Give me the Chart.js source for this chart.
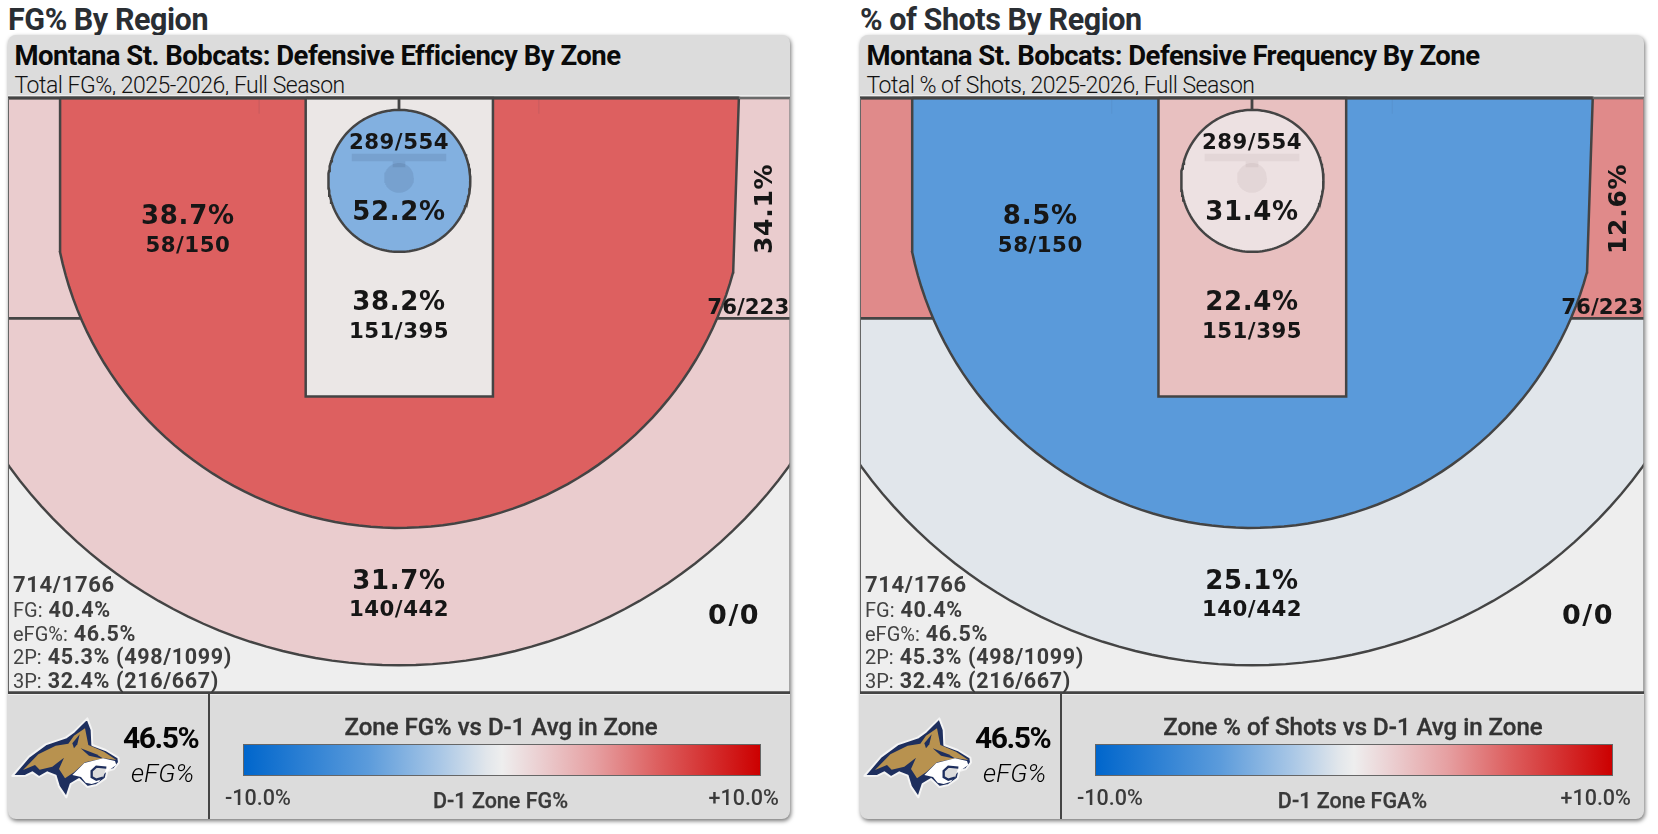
<!DOCTYPE html>
<html lang="en">
<head>
<meta charset="UTF-8">
<title>Montana St. Bobcats: Defensive Zones</title>
<script src="https://cdn.jsdelivr.net/npm/chart.js"></script>
<style>
    html, body { margin: 0; padding: 0; background: #fff; width: 1658px; height: 834px; overflow: hidden; }
    body { font-family: Roboto, sans-serif; position: relative; }
    .t { position: absolute; white-space: nowrap; line-height: 1; }
    .panelTitle { top: 4.5px; font-size: 30.5px; font-weight: 700; color: #2a2e33; letter-spacing: -0.45px; }
    .card { position: absolute; top: 35px; height: 784px; background: #dcdcdc; border-radius: 8px;
            box-shadow: 1px 2px 4px rgba(0,0,0,.55); overflow: hidden; }
    .court { position: absolute; left: 0; top: 60px; right: 0; height: 600px; background: #eeeeee; }
    .head { left: 6.5px; top: 7px; font-size: 27.5px; font-weight: 700; color: #0a0a0a; letter-spacing: -0.52px; }
    .sub { left: 6.5px; top: 38.5px; font-size: 23px; font-weight: 300; color: #111; letter-spacing: -0.5px; }
    .stats { left: 5px; color: #444; font-size: 20px; font-weight: 400; }
    .stats b { font-weight: 700; font-size: 21.5px; letter-spacing: 0.65px; margin-left: 1px; color: #3c3c3c; }
    .divider { position: absolute; left: 200px; top: 658px; bottom: 0; width: 1.5px; background: #444; }
    .logo { position: absolute; left: 1px; top: 680px; }
    .efg { left: 115px; top: 688px; font-size: 30px; font-weight: 700; color: #050505; letter-spacing: -1.45px; }
    .efgLab { left: 123px; top: 725px; font-size: 26px; font-weight: 300; font-style: italic; color: #000; }
    .legendTitle { left: 200px; width: 586px; top: 679.5px; text-align: center; font-size: 24px; font-weight: 500; color: #333; -webkit-text-stroke: 0.35px #333; }
    .bar { position: absolute; left: 234.5px; width: 516px; top: 709px; height: 30px; border: 1.5px solid #666;
           background: linear-gradient(90deg, #0066cc 0%, #5b9bdb 24%, #a9c7e6 38%, #e1e6eb 47%, #eeeeee 50%,
                                       #ebd0d2 57%, #e6a0a2 68%, #dd6060 80%, #cc0000 100%); }
    .tick { top: 752px; font-size: 21.5px; font-weight: 500; color: #3a3a3a; }
    .tickMid { left: 199.5px; width: 586px; top: 754.5px; text-align: center; font-size: 21.5px; font-weight: 500; color: #3a3a3a; -webkit-text-stroke: 0.25px #3a3a3a; }
</style>
</head>
<body>
<script>
    // zone order is the same in every list
    const zoneNames = ["Rim", "Paint", "Long 2", "Corner 3", "Arc 3", "Deep 3"];
    const zoneMakes = [289, 151, 58, 76, 140, 0];
    const zoneAttempts = [554, 395, 150, 223, 442, 0];
    const fgPct = [52.2, 38.2, 38.7, 34.1, 31.7, null];
    const shotPct = [31.4, 22.4, 8.5, 12.6, 25.1, null];
    const fgColors = ["#82b0e0", "#ebe7e6", "#dd6060", "#eaccce", "#eaccce", "#eeeeee"];
    const shotColors = ["#ede1e2", "#e8c0c0", "#5a9ada", "#e08a8a", "#e1e6eb", "#eeeeee"];

    const teamName = "Montana St. Bobcats";
    const seasonText = "2025-2026, Full Season";
    const totalLine = "714/1766";
    const statLabels = ["FG:", "eFG%:", "2P:", "3P:"];
    const statValues = ["40.4%", "46.5%", "45.3% (498/1099)", "32.4% (216/667)"];
    const efgValue = "46.5%";
    const scaleTicks = ["-10.0%", "+10.0%"];

    // court in feet, hoop at x = 0, baseline at y = 0
    const X_EDGE = 24.85, Y_BOTTOM = 37.8, LINE = "#444444";
    const ARC3 = 22, ARC3_Y = 5.33, DEEP = 30.6, DEEP_Y = 5.46, RIM_R = 4.51, RIM_Y = 5.27;

    function arc(cx, cy, r, fromDeg, toDeg) {
        const pts = [];
        const steps = Math.max(8, Math.round(Math.abs(toDeg - fromDeg) / 2));
        for (let i = 0; i <= steps; i++) {
            const a = (fromDeg + (toDeg - fromDeg) * i / steps) * Math.PI / 180;
            pts.push({ x: cx + r * Math.cos(a), y: cy + r * Math.sin(a) });
        }
        return pts;
    }
    function rect(x0, y0, x1, y1) {
        return [{ x: x0, y: y0 }, { x: x1, y: y0 }, { x: x1, y: y1 }, { x: x0, y: y1 }, { x: x0, y: y0 }];
    }
    function deg(dx, dy) { return Math.atan2(dy, dx) * 180 / Math.PI; }

    function courtDatasets(colors, ghost) {
        const shape = (data, fill, width, stroke) => ({
            data: data, showLine: true, fill: fill ? "shape" : false, backgroundColor: fill || "transparent",
            borderColor: stroke || LINE, borderWidth: width, pointRadius: 0, tension: 0
        });
        const deepAngle = deg(27, Math.sqrt(DEEP * DEEP - 27 * 27));
        const band = [{ x: -27, y: 14 }, { x: 27, y: 14 }]
            .concat(arc(0, DEEP_Y, DEEP, deepAngle, 180 - deepAngle));
        band.push({ x: -27, y: 14 });

        const long2 = [{ x: -21.54, y: 0 }, { x: 21.6, y: 0 }, { x: 21.24, y: 11.05 }]
            .concat(arc(0, ARC3_Y, ARC3, deg(21.24, 5.72), 180 - deg(21.54, 4.47)));
        long2.push({ x: -21.54, y: 0 });

        // listed bottom to top
        const layers = [
            shape(band, colors[4], 2.4),
            shape(rect(-27, 0, 27, 14), colors[3], 2.4),
            shape(long2, colors[2], 2.5),
            shape(rect(-5.93, 0, 5.97, 18.97), colors[1], 2.5),
            shape(arc(0.02, RIM_Y, RIM_R, 0, 360), colors[0], 2.5),
            shape(rect(-3, 3.55, 3, 4.02), ghost, 0, "transparent"),
            shape(rect(-0.4, 4.02, 0.4, 4.4), ghost, 0, "transparent"),
            shape(arc(0, 5.08, 0.95, 0, 360), ghost, 0, "transparent"),
            shape(rect(-8.92, 0, -8.86, 1), ghost, 0, "transparent"),
            shape(rect(8.86, 0, 8.92, 1), ghost, 0, "transparent"),
            shape([{ x: 0, y: 0 }, { x: 0, y: 0.75 }], null, 2.8),
            shape([{ x: -X_EDGE, y: 0 }, { x: 21.6, y: 0 }], null, 3.2),
            shape([{ x: 21.6, y: 0 }, { x: X_EDGE, y: 0 }], null, 1.4, "#777777"),
            shape([{ x: -X_EDGE, y: 0 }, { x: -X_EDGE, y: Y_BOTTOM }], null, 2, "#666666"),
            shape([{ x: X_EDGE, y: 0 }, { x: X_EDGE, y: Y_BOTTOM }], null, 1.4, "#888888"),
            shape([{ x: -X_EDGE, y: Y_BOTTOM }, { x: X_EDGE, y: Y_BOTTOM }], null, 2.6)
        ];
        return layers.reverse();
    }

    // label anchors in court feet, one pair per zone: value line, count line
    const valueSpots = [[0, 7.35], [0, 13.06], [-13.42, 7.6], [23.3, 7.05], [0, 30.78], null];
    const countSpots = [[0, 2.87], [0, 14.88], [-13.42, 9.44], [22.2, 13.38], [0, 32.58], [21.3, 33.0]];

    const zoneLabels = {
        id: "zoneLabels",
        afterDraw(chart, args, opts) {
            const { ctx, scales } = chart;
            ctx.save();
            ctx.fillStyle = "#161616";
            ctx.textAlign = "center";
            ctx.textBaseline = "middle";
            zoneNames.forEach((name, i) => {
                const c = countSpots[i], v = valueSpots[i];
                const big = zoneAttempts[i] === 0;
                ctx.font = (big ? "bold 27px" : "bold 21.3px") + " 'DejaVu Sans'";
                ctx.letterSpacing = big ? "1.6px" : (name === "Corner 3" ? "0px" : "0.5px");
                ctx.fillText(zoneMakes[i] + "/" + zoneAttempts[i], scales.x.getPixelForValue(c[0]), scales.y.getPixelForValue(c[1]));
                if (v && opts.values[i] !== null) {
                    const label = opts.values[i].toFixed(1) + "%";
                    ctx.font = "bold 26px 'DejaVu Sans'";
                    ctx.letterSpacing = "0.7px";
                    if (name === "Corner 3") {
                        ctx.save();
                        ctx.translate(scales.x.getPixelForValue(v[0]), scales.y.getPixelForValue(v[1]));
                        ctx.rotate(-Math.PI / 2);
                        ctx.font = "bold 25px 'DejaVu Sans'";
                        ctx.fillText(label, 0, 0);
                        ctx.restore();
                    } else {
                        ctx.fillText(label, scales.x.getPixelForValue(v[0]), scales.y.getPixelForValue(v[1]));
                    }
                }
            });
            ctx.restore();
        }
    };

    const logoSvg = `<svg class="logo" width="130" height="90" viewBox="0 0 390 270">
        <path d="M10,183 L60,125 L110,88 L170,68 L195,50 L235,10 L248,45 L250,90 L290,105 L328,128 L330,142 L315,162 L295,168 L290,190 L262,210 L235,216 L210,192 L185,207 L172,247 L150,215 L140,182 L115,172 L90,186 L70,172 L50,182 Z"
              fill="#1e2f5e" stroke="#f4f4f4" stroke-width="6" stroke-linejoin="round"/>
        <path d="M42,165 L88,118 L140,92 L178,86 L195,62 L228,40 L238,90 L285,110 L322,135 L285,130 L228,142 L195,172 L168,190 L150,162 L165,128 L130,155 L92,164 L78,150 Z" fill="#b8924f"/>
        <path d="M190,85 L212,58 L205,88 L195,100 Z" fill="#1e2f5e"/>
        <path d="M215,100 L262,118 L285,132 L240,122 Z" fill="#1e2f5e"/>
        <path d="M190,180 L226,144 L282,130 L318,138 L322,150 L308,160 L285,176 L270,200 L248,207 L230,203 L216,186 Z" fill="#ffffff"/>
        <path d="M292,158 L262,155 L248,168 L248,186 L262,194 L282,188" fill="#dcdcdc" stroke="#1e2f5e" stroke-width="7"/>
    </svg>`;

    function addPanel(left, width, cfg) {
        const title = document.createElement("div");
        title.className = "t panelTitle";
        title.style.left = left + "px";
        title.textContent = cfg.panelTitle;
        document.body.appendChild(title);

        const card = document.createElement("div");
        card.className = "card";
        card.style.left = left + "px";
        card.style.width = width + "px";
        const statRows = statLabels.map((lab, i) =>
            `<div class="t stats" style="top:${[563.5, 587.5, 611, 635][i]}px">${lab} <b>${statValues[i]}</b></div>`).join("");
        card.innerHTML = `
            <div class="t head">${teamName}: ${cfg.head}</div>
            <div class="t sub">${cfg.sub}, ${seasonText}</div>
            <div class="court"><canvas></canvas></div>
            <div class="t stats" style="top:539px;"><b style="margin:0;font-size:22px">${totalLine}</b></div>
            ${statRows}
            <div class="divider"></div>
            ${logoSvg}
            <div class="t efg">${efgValue}</div>
            <div class="t efgLab">eFG%</div>
            <div class="t legendTitle">${cfg.legendTitle}</div>
            <div class="bar"></div>
            <div class="t tick" style="left:217px">${scaleTicks[0]}</div>
            <div class="t tickMid">${cfg.scaleName}</div>
            <div class="t tick" style="left:700.5px">${scaleTicks[1]}</div>`;
        document.body.appendChild(card);

        new Chart(card.querySelector("canvas"), {
            type: "scatter",
            data: { datasets: courtDatasets(cfg.colors, cfg.ghost) },
            options: {
                responsive: true,
                maintainAspectRatio: false,
                animation: false,
                events: [],
                layout: { padding: 0 },
                scales: {
                    x: { type: "linear", display: false, min: -X_EDGE, max: X_EDGE },
                    y: { type: "linear", display: false, reverse: true, min: -0.19, max: Y_BOTTOM + 0.15 }
                },
                plugins: {
                    legend: { display: false },
                    tooltip: { enabled: false },
                    zoneLabels: { values: cfg.values }
                }
            },
            plugins: [zoneLabels]
        });
    }

    addPanel(8, 782, {
        panelTitle: "FG% By Region",
        head: "Defensive Efficiency By Zone",
        sub: "Total FG%",
        legendTitle: "Zone FG% vs D-1 Avg in Zone",
        scaleName: "D-1 Zone FG%",
        colors: fgColors,
        values: fgPct,
        ghost: "rgba(40,60,90,.12)"
    });
    addPanel(860, 784, {
        panelTitle: "% of Shots By Region",
        head: "Defensive Frequency By Zone",
        sub: "Total % of Shots",
        legendTitle: "Zone % of Shots vs D-1 Avg in Zone",
        scaleName: "D-1 Zone FGA%",
        colors: shotColors,
        values: shotPct,
        ghost: "rgba(60,20,20,.05)"
    });
</script>
</body>
</html>
